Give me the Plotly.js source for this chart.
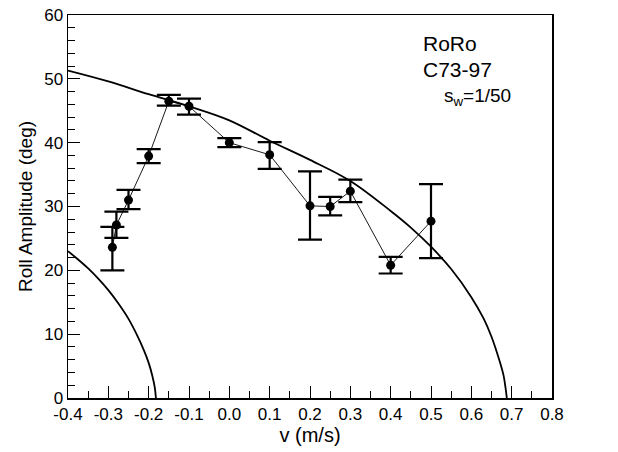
<!DOCTYPE html>
<html>
<head>
<meta charset="utf-8">
<script src="https://cdn.plot.ly/plotly-3.0.1.min.js"></script>
<style>html,body{margin:0;padding:0;background:#fff}#chart{width:618px;height:452px}</style>
</head>
<body>
<div id="chart"></div>
<script>
// Measured roll amplitude
const speed = [-0.29, -0.28, -0.25, -0.2, -0.15, -0.1, 0.0, 0.1, 0.2, 0.25, 0.3, 0.4, 0.5];
const rollAmp = [23.6, 27.1, 31.0, 37.9, 46.5, 45.7, 40.0, 38.1, 30.1, 30.0, 32.4, 20.8, 27.7];
const errUpper = [26.8, 29.2, 32.6, 39.0, 47.5, 46.9, 40.7, 40.1, 35.5, 31.5, 34.2, 22.1, 33.5];
const errLower = [20.0, 25.1, 29.6, 36.8, 45.8, 44.4, 39.3, 35.9, 24.8, 28.6, 30.7, 19.5, 21.9];

// Boundary curve (right branch)
const curveRightV = [-0.4, -0.3, -0.2, -0.1, 0.0, 0.1, 0.2, 0.3, 0.4, 0.45, 0.5, 0.55, 0.6, 0.63, 0.65, 0.67, 0.68, 0.685, 0.688];
const curveRightY = [51.3, 49.6, 47.6, 45.7, 43.5, 40.3, 37.3, 34.0, 29.3, 26.7, 23.7, 20.2, 15.8, 12.5, 9.6, 5.8, 3.5, 1.5, 0];

// Boundary curve (left branch)
const curveLeftV = [-0.4, -0.375, -0.35, -0.325, -0.3, -0.275, -0.25, -0.23, -0.212, -0.2, -0.191, -0.185, -0.182];
const curveLeftY = [23.0, 21.7, 20.3, 18.7, 16.9, 14.8, 12.4, 10.0, 7.5, 5.5, 3.5, 1.7, 0];

// Labels
const xTicks = [-0.4, -0.3, -0.2, -0.1, 0.0, 0.1, 0.2, 0.3, 0.4, 0.5, 0.6, 0.7, 0.8];
const yTicks = [0, 10, 20, 30, 40, 50, 60];
const xTitle = 'v (m/s)';
const yTitle = 'Roll Amplitude (deg)';
const noteLines = ['RoRo', 'C73-97', 's<sub>w</sub>=1/50'];

const errPlus = rollAmp.map((v, i) => errUpper[i] - v);
const errMinus = rollAmp.map((v, i) => v - errLower[i]);

const font = 'Liberation Sans, Arial, sans-serif';

const traces = [
  {x: curveRightV, y: curveRightY, mode: 'lines', type: 'scatter',
   line: {color: '#000', width: 1.8, shape: 'spline'}, hoverinfo: 'none'},
  {x: curveLeftV, y: curveLeftY, mode: 'lines', type: 'scatter',
   line: {color: '#000', width: 1.8, shape: 'spline'}, hoverinfo: 'none'},
  {x: speed, y: rollAmp, mode: 'lines+markers', type: 'scatter',
   line: {color: '#000', width: 0.9},
   marker: {color: '#000', size: 9, symbol: 'circle'},
   error_y: {type: 'data', symmetric: false, array: errPlus, arrayminus: errMinus,
             color: '#000', thickness: 2.2, width: 12}}
];

const layout = {
  width: 618, height: 452,
  margin: {l: 68, r: 66, t: 15, b: 54},
  paper_bgcolor: '#fff', plot_bgcolor: '#fff',
  showlegend: false,
  font: {family: font, color: '#000', size: 17},
  xaxis: {
    range: [-0.4, 0.8], tickvals: xTicks, ticktext: xTicks.map(v => v.toFixed(1)),
    ticks: 'inside', ticklen: 12, tickwidth: 1, tickcolor: '#000',
    minor: {dtick: 0.05, tick0: 0, ticks: 'inside', ticklen: 7, tickwidth: 1, tickcolor: '#000', showgrid: false},
    showline: true, linecolor: '#000', linewidth: 1.5, mirror: true,
    showgrid: false, zeroline: false,
    tickfont: {size: 17, family: font},
    title: {text: xTitle, font: {size: 20, family: font}, standoff: 3}
  },
  yaxis: {
    range: [0, 60], tickvals: yTicks,
    ticks: 'inside', ticklen: 12, tickwidth: 1, tickcolor: '#000',
    minor: {dtick: 2, tick0: 0, ticks: 'inside', ticklen: 7, tickwidth: 1, tickcolor: '#000', showgrid: false},
    showline: true, linecolor: '#000', linewidth: 1.5, mirror: true,
    showgrid: false, zeroline: false,
    tickfont: {size: 17, family: font},
    title: {text: yTitle, font: {size: 19, family: font}, standoff: 6}
  },
  annotations: [
    {x: 0.475, y: 55.6, xref: 'x', yref: 'y', text: noteLines[0], showarrow: false, xanchor: 'left', yanchor: 'middle', font: {size: 21, family: font}},
    {x: 0.475, y: 51.4, xref: 'x', yref: 'y', text: noteLines[1], showarrow: false, xanchor: 'left', yanchor: 'middle', font: {size: 21, family: font}},
    {x: 0.528, y: 47.2, xref: 'x', yref: 'y', text: noteLines[2], showarrow: false, xanchor: 'left', yanchor: 'middle', font: {size: 19, family: font}}
  ]
};

Plotly.newPlot('chart', traces, layout, {displayModeBar: false, staticPlot: true});
</script>
</body>
</html>
